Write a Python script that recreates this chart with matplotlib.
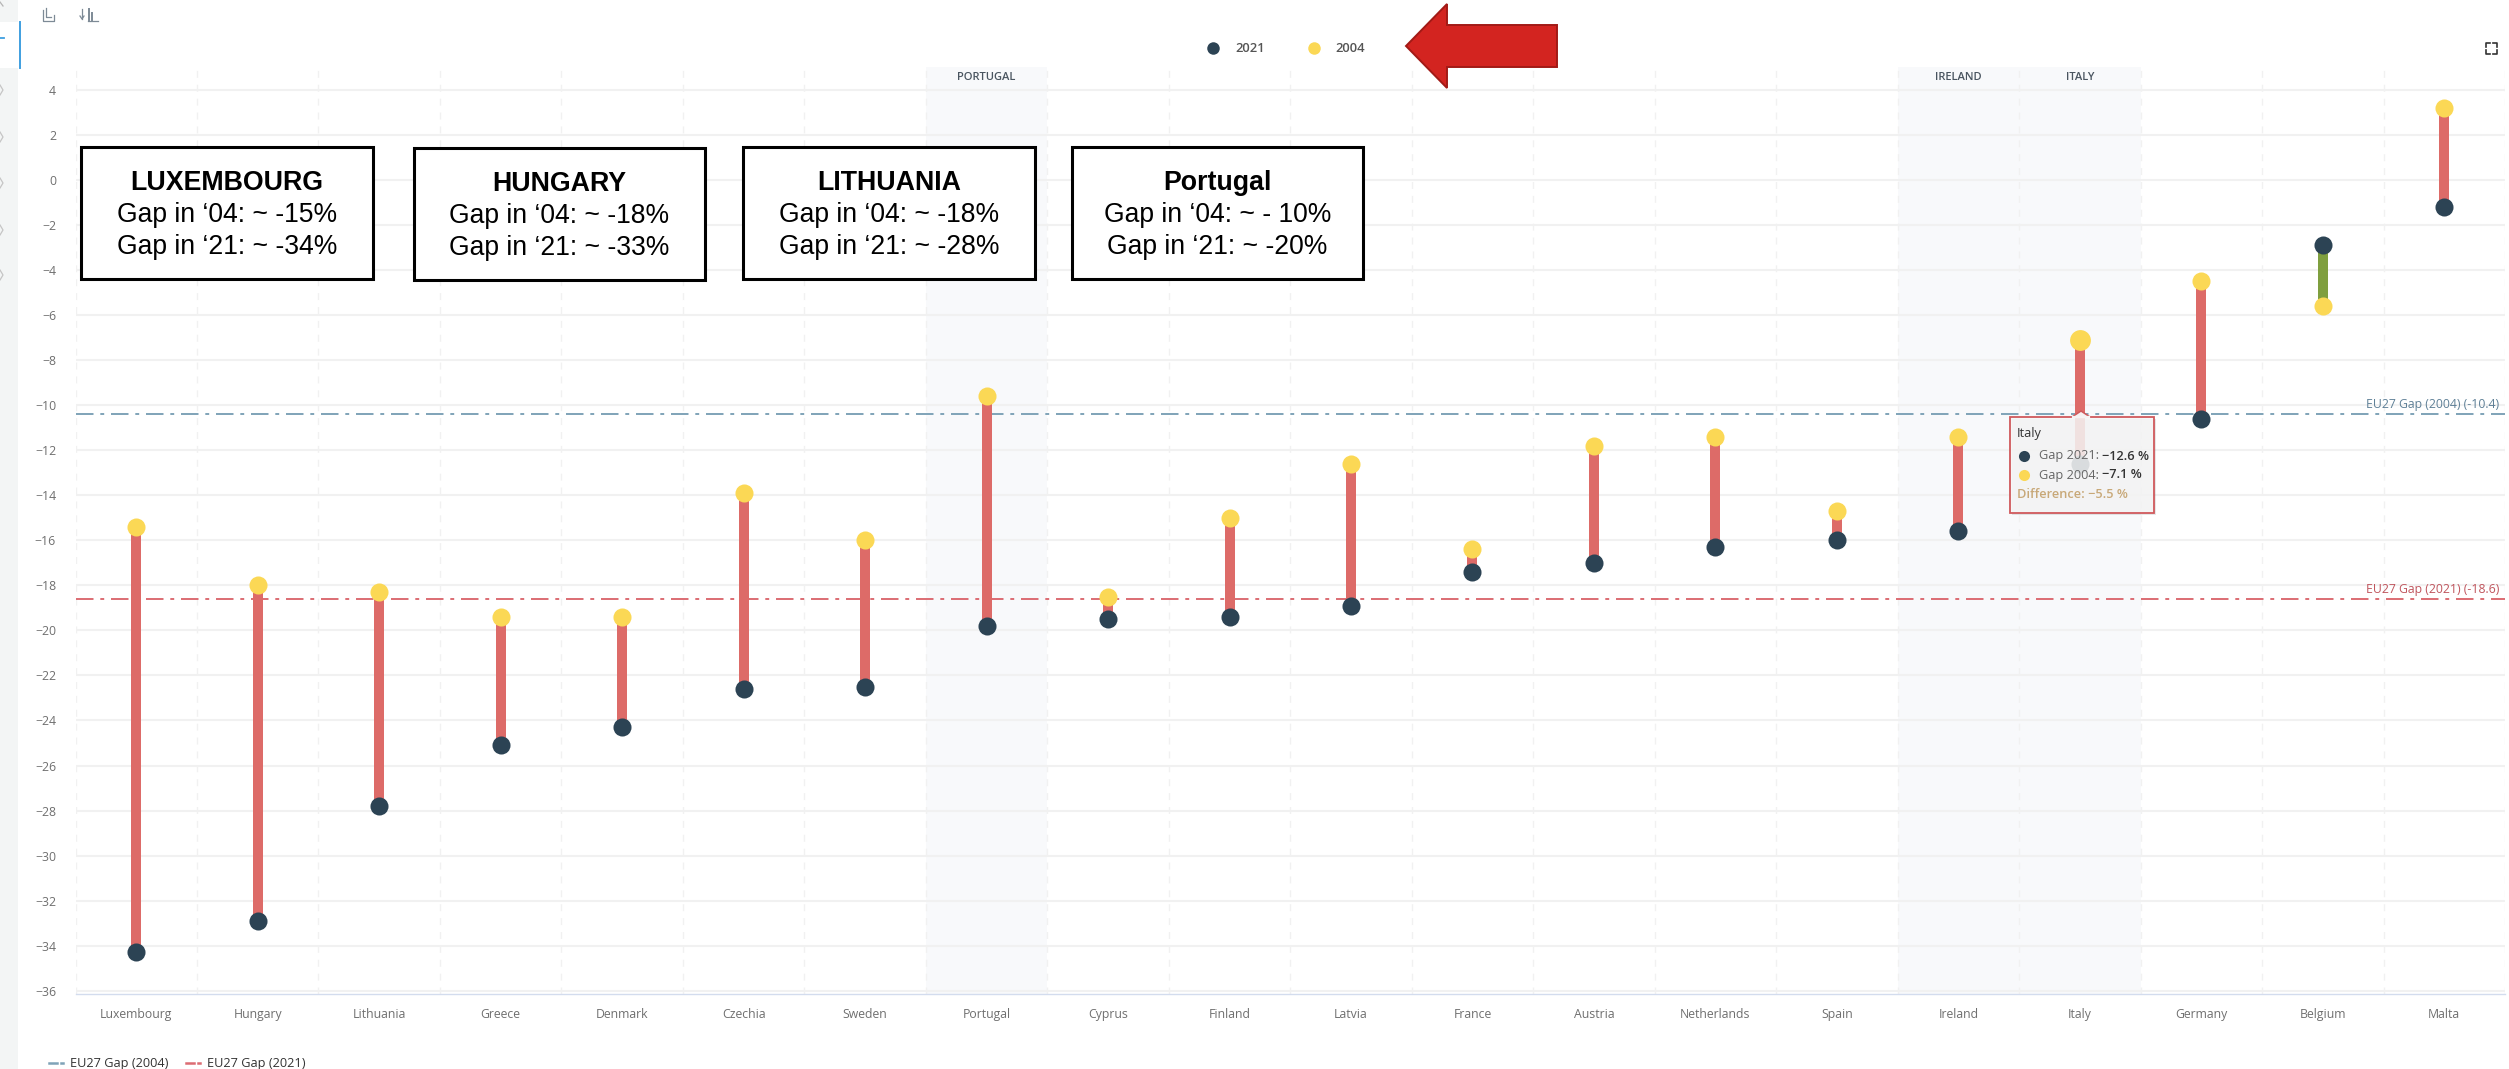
import matplotlib
matplotlib.use("Agg")
import matplotlib.pyplot as plt
from matplotlib.patches import Rectangle, Polygon
from matplotlib.ticker import FixedLocator, FuncFormatter

W, H = 2509, 1069
UI_FONT = "Open Sans"
BOX_FONT = "Liberation Sans"

countries = ["Luxembourg", "Hungary", "Lithuania", "Greece", "Denmark", "Czechia", "Sweden",
             "Portugal", "Cyprus", "Finland", "Latvia", "France", "Austria", "Netherlands",
             "Spain", "Ireland", "Italy", "Germany", "Belgium", "Malta"]
gap_2021 = [-34.3, -32.9, -27.8, -25.1, -24.3, -22.6, -22.5, -19.8, -19.5, -19.4, -18.9,
            -17.4, -17.0, -16.3, -16.0, -15.6, -12.6, -10.6, -2.9, -1.2]
gap_2004 = [-15.4, -18.0, -18.3, -19.4, -19.4, -13.9, -16.0, -9.6, -18.5, -15.0, -12.6,
            -16.4, -11.8, -11.4, -14.7, -11.4, -7.1, -4.5, -5.6, 3.2]
y_ticks = list(range(-36, 5, 2))
eu_gap_2004 = -10.4
eu_gap_2021 = -18.6
highlighted = ["Portugal", "Ireland", "Italy"]
hover_country = "Italy"

callouts = [
    ("LUXEMBOURG", "Gap in ‘04: ~ -15%", "Gap in ‘21: ~ -34%"),
    ("HUNGARY", "Gap in ‘04: ~ -18%", "Gap in ‘21: ~ -33%"),
    ("LITHUANIA", "Gap in ‘04: ~ -18%", "Gap in ‘21: ~ -28%"),
    ("Portugal", "Gap in ‘04: ~ - 10%", "Gap in ‘21: ~ -20%"),
]
callout_boxes = [(81, 373, 147, 279), (414, 705, 148, 280), (743, 1035, 147, 279), (1072, 1363, 147, 279)]

DARK = "#2c4354"
YELLOW = "#fbd855"
RED = "#dd6b68"
GREEN = "#7f9f3f"
BLUE_LINE = "#7fa3b8"
RED_LINE = "#dc6c73"
GRID = "#f1f1f1"
LABEL = "#6f6f6f"

fig = plt.figure(figsize=(W / 100, H / 100), dpi=100, facecolor="white")
left, right, top, bottom = 75.5, 2505, 67, 994.3
ax = fig.add_axes([left / W, 1 - bottom / H, (right - left) / W, (bottom - top) / H])
ax.set_xlim(-0.5, len(countries) - 0.5)
ax.set_ylim(-36.16, 5.02)

for spine in ("top", "right", "left"):
    ax.spines[spine].set_visible(False)
ax.spines["bottom"].set_color("#d3dcee")
ax.spines["bottom"].set_linewidth(1.0)

ax.set_yticks(y_ticks)
ax.yaxis.set_major_formatter(FuncFormatter(lambda v, _: f"{int(v)}".replace("-", "−")))
ax.set_xticks(range(len(countries)))
ax.set_xticklabels(countries)
ax.xaxis.set_minor_locator(FixedLocator([i - 0.5 for i in range(len(countries) + 1)]))
ax.tick_params(axis="both", which="both", length=0)
ax.tick_params(axis="x", which="major", pad=10, labelsize=8.8, labelcolor=LABEL)
ax.tick_params(axis="y", which="major", pad=14, labelsize=8.8, labelcolor=LABEL)
for lab in ax.get_xticklabels() + ax.get_yticklabels():
    lab.set_fontfamily(UI_FONT)
ax.grid(True, axis="y", which="major", color=GRID, lw=1.5, zorder=0)
ax.grid(True, axis="x", which="minor", color="#f1f1f1", lw=1.0, ls=(0, (5, 5)), zorder=0)
ax.set_axisbelow(True)

for name in highlighted:
    i = countries.index(name)
    ax.axvspan(i - 0.5, i + 0.5, facecolor="#f8f9fb", edgecolor="none", zorder=0.5)
    ax.text(i, 4.55, name.upper(), ha="center", va="center", fontsize=8.0,
            fontweight="semibold", color="#4a5560", family=UI_FONT, zorder=2)

ax.axhline(eu_gap_2004, color=BLUE_LINE, lw=1.4, ls=(0, (9, 3.5, 2, 3.5)), zorder=2)
ax.axhline(eu_gap_2021, color=RED_LINE, lw=1.4, ls=(0, (9, 3.5, 2, 3.5)), zorder=2)
ax.text(19.45, eu_gap_2004 + 0.13, f"EU27 Gap (2004) ({eu_gap_2004})", ha="right", va="bottom",
        fontsize=8.8, color="#5f8097", family=UI_FONT, zorder=2)
ax.text(19.45, eu_gap_2021 + 0.13, f"EU27 Gap (2021) ({eu_gap_2021})", ha="right", va="bottom",
        fontsize=8.8, color="#c0555d", family=UI_FONT, zorder=2)

x = list(range(len(countries)))
seg_colors = [GREEN if a > b else RED for a, b in zip(gap_2021, gap_2004)]
ax.vlines(x, gap_2021, gap_2004, colors=seg_colors, lw=7.2, zorder=3)
ax.plot(x, gap_2021, ls="none", marker="o", ms=13, mfc=DARK, mec="none", zorder=4)
ax.plot(x, gap_2004, ls="none", marker="o", ms=13, mfc=YELLOW, mec="none", zorder=4)
hi = countries.index(hover_country)
ax.plot([hi], [gap_2004[hi]], ls="none", marker="o", ms=15, mfc=YELLOW, mec="none", zorder=5)

# Overlay working in reference pixels, for everything that is not a data mark
ov = fig.add_axes([0, 0, 1, 1], facecolor="none")
ov.set_xlim(0, W)
ov.set_ylim(H, 0)
ov.axis("off")

# Callout boxes
for (head, l1, l2), (x0, x1, y0, y1) in zip(callouts, callout_boxes):
    ov.add_patch(Rectangle((x0, y0), x1 - x0, y1 - y0, fc="white", ec="black", lw=2.2, zorder=10))
    cx = (x0 + x1) / 2
    ov.text(cx, y0 + 36, head, ha="center", va="center", fontsize=19.3, fontweight="bold",
            family=BOX_FONT, color="black", zorder=11)
    ov.text(cx, y0 + 68, l1, ha="center", va="center", fontsize=19.1, family=BOX_FONT, color="black", zorder=11)
    ov.text(cx, y0 + 100, l2, ha="center", va="center", fontsize=19.1, family=BOX_FONT, color="black", zorder=11)

# Tooltip
tx0, tx1, ty0, ty1 = 2010, 2154, 417, 513
ov.add_patch(Rectangle((tx0 + 2, ty0 + 2), tx1 - tx0, ty1 - ty0, fc="#00000018", ec="none", zorder=9))
ov.add_patch(Rectangle((tx0, ty0), tx1 - tx0, ty1 - ty0, fc=(0.97, 0.97, 0.97, 0.86),
                       ec="#d0595c", lw=1.3, zorder=10))
ov.add_patch(Polygon([(2072, ty0), (2081, 411), (2090, ty0)], closed=True, fc="#f7f0f0",
                     ec="#d0595c", lw=1.1, zorder=10))
ov.plot([2073, 2089], [ty0, ty0], color="#f6f3f3", lw=1.6, zorder=10.5)
ov.text(2017, 433, hover_country, fontsize=9.2, color="#333333", family=UI_FONT, va="center", zorder=11)
ov.plot([2024], [456], marker="o", ms=8, mfc=DARK, mec="none", zorder=11)
ov.plot([2024], [475], marker="o", ms=8, mfc=YELLOW, mec="none", zorder=11)
ov.text(2039, 456, "Gap 2021:", fontsize=9.2, color="#666666", family=UI_FONT, va="center", zorder=11)
ov.text(2039, 475, "Gap 2004:", fontsize=9.2, color="#666666", family=UI_FONT, va="center", zorder=11)
ov.text(2102, 456, f"{gap_2021[hi]} %".replace("-", "−"), fontsize=9.2, color="#333333", family=UI_FONT,
        fontweight="semibold", va="center", zorder=11)
ov.text(2102, 475, f"{gap_2004[hi]} %".replace("-", "−"), fontsize=9.2, color="#333333", family=UI_FONT,
        fontweight="semibold", va="center", zorder=11)
diff = round(gap_2021[hi] - gap_2004[hi], 1)
ov.text(2017, 495, f"Difference: {diff} %".replace("-", "−"), fontsize=9.2, color="#c8a878", family=UI_FONT,
        fontweight="semibold", va="center", zorder=11)

# Red arrow
ov.add_patch(Polygon([(1406, 46), (1447, 4), (1447, 25), (1557, 25), (1557, 67), (1447, 67), (1447, 88)],
                     closed=True, fc="#d32420", ec="#a21a16", lw=1.4, zorder=10))

# Top legend
ov.plot([1213], [48], marker="o", ms=9, mfc=DARK, mec="none")
ov.plot([1314], [48], marker="o", ms=9, mfc=YELLOW, mec="none")
ov.text(1235, 48, "2021", fontsize=9.4, color="#555555", fontweight="semibold", family=UI_FONT, va="center")
ov.text(1335, 48, "2004", fontsize=9.4, color="#555555", fontweight="semibold", family=UI_FONT, va="center")

# Bottom legend
ov.plot([49, 57], [1063, 1063], color=BLUE_LINE, lw=1.8)
ov.plot([61, 63], [1063, 1063], color=BLUE_LINE, lw=1.8)
ov.text(70, 1063, "EU27 Gap (2004)", fontsize=9.2, color="#333333", family=UI_FONT, va="center")
ov.plot([186, 194], [1063, 1063], color=RED_LINE, lw=1.8)
ov.plot([198, 200], [1063, 1063], color=RED_LINE, lw=1.8)
ov.text(207, 1063, "EU27 Gap (2021)", fontsize=9.2, color="#333333", family=UI_FONT, va="center")

# Sidebar
ov.add_patch(Rectangle((0, 0), 18, H, fc="#f3f5f5", ec="none", zorder=1))
ov.add_patch(Rectangle((0, 22), 19, 46, fc="white", ec="none", zorder=1.1))
ov.plot([19.5, 19.5], [22, 68], color="#3f9fe0", lw=1.4, zorder=1.2)
ov.plot([0, 4], [38, 38], color="#3f9fe0", lw=1.3, zorder=1.2)
ov.plot([0, 3], [2, 6], color="#b5b5b5", lw=0.9, zorder=1.2)
for yy in (90, 137, 183, 230, 275):
    ov.plot([0, 3, 0], [yy - 5, yy, yy + 5], color="#c5c5c5", lw=0.9, zorder=1.2)

# Toolbar icons
c = "#7d8a96"
ov.plot([43, 43, 54, 54], [10, 21, 21, 15], color=c, lw=0.9)
ov.plot([46, 46, 51], [8, 17, 17], color=c, lw=0.9)
ov.plot([82, 82], [9, 19], color=c, lw=0.9)
ov.plot([80, 82, 84], [16, 19, 16], color=c, lw=0.9)
ov.plot([89, 89], [9, 20], color=c, lw=1.4)
ov.plot([92, 92], [13, 20], color=c, lw=1.4)
ov.plot([88, 98], [21, 21], color=c, lw=0.9)

# Full-screen icon
c2 = "#333333"
for sx, sy in ((2486, 43), (2497, 43), (2486, 54), (2497, 54)):
    dx = 4 if sx == 2486 else -4
    dy = 4 if sy == 43 else -4
    ov.plot([sx + dx, sx, sx], [sy, sy, sy + dy], color=c2, lw=1.2)

fig.savefig("out.png", dpi=100, facecolor="white")
